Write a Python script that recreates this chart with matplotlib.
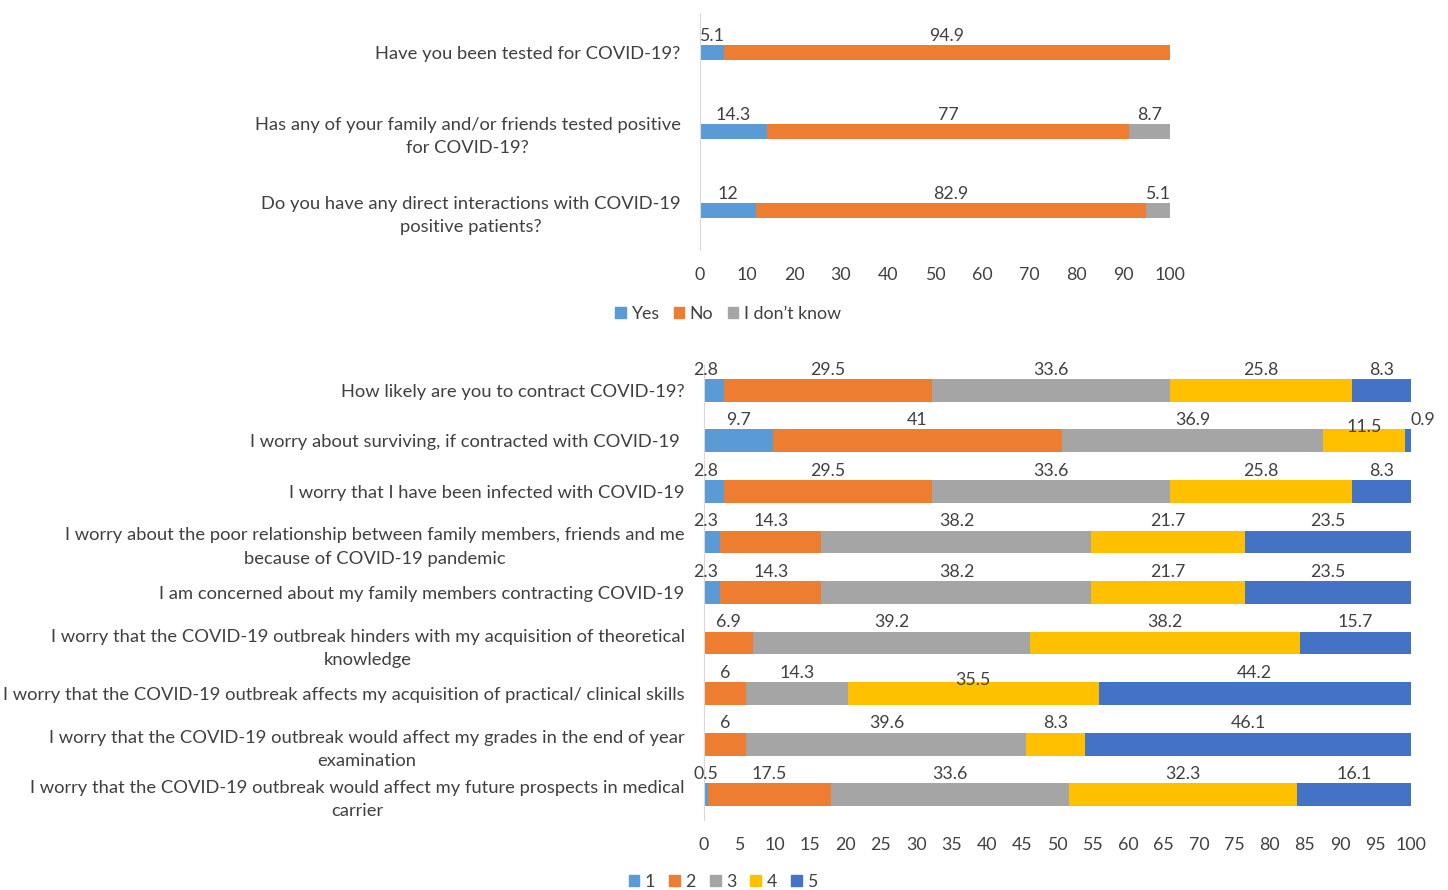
import matplotlib
matplotlib.use("Agg")
import matplotlib.pyplot as plt
from matplotlib.patches import Patch
import numpy as np

plt.rcParams['font.family'] = ['Lato', 'DejaVu Sans']

# ---- data: top panel ----
top_questions = [
    "Have you been tested for COVID-19?",
    "Has any of your family and/or friends tested positive\nfor COVID-19?",
    "Do you have any direct interactions with COVID-19\npositive patients?",
]
top_series = ["Yes", "No", "I don\u2019t know"]
top_yes = [5.1, 14.3, 12]
top_no = [94.9, 77, 82.9]
top_dk = [0, 8.7, 5.1]
top_ticks = [0, 10, 20, 30, 40, 50, 60, 70, 80, 90, 100]

# ---- data: bottom panel ----
bot_questions = [
    "How likely are you to contract COVID-19?",
    "I worry about surviving, if contracted with COVID-19 ",
    "I worry that I have been infected with COVID-19",
    "I worry about the poor relationship between family members, friends and me\nbecause of COVID-19 pandemic",
    "I am concerned about my family members contracting COVID-19",
    "I worry that the COVID-19 outbreak hinders with my acquisition of theoretical\nknowledge",
    "I worry that the COVID-19 outbreak affects my acquisition of practical/ clinical skills",
    "I worry that the COVID-19 outbreak would affect my grades in the end of year\nexamination",
    "I worry that the COVID-19 outbreak would affect my future prospects in medical\ncarrier",
]
bot_series = ["1", "2", "3", "4", "5"]
bot_1 = [2.8, 9.7, 2.8, 2.3, 2.3, 0, 0, 0, 0.5]
bot_2 = [29.5, 41, 29.5, 14.3, 14.3, 6.9, 6, 6, 17.5]
bot_3 = [33.6, 36.9, 33.6, 38.2, 38.2, 39.2, 14.3, 39.6, 33.6]
bot_4 = [25.8, 11.5, 25.8, 21.7, 21.7, 38.2, 35.5, 8.3, 32.3]
bot_5 = [8.3, 0.9, 8.3, 23.5, 23.5, 15.7, 44.2, 46.1, 16.1]
bot_ticks = list(range(0, 101, 5))

colors = ["#5B9BD5", "#ED7D31", "#A5A5A5", "#FFC000", "#4472C4"]
txt = "#404040"
FS = 12.8
YFS = 13.2

W, H = 1448, 890
fig = plt.figure(figsize=(W / 100, H / 100), dpi=100)


def px_axes(x0, x1, y0, y1):
    return fig.add_axes([x0 / W, 1 - y1 / H, (x1 - x0) / W, (y1 - y0) / H])


def draw(ax, questions, series_vals, names, ticks, height, label_nudge):
    y = np.arange(len(questions))
    left = np.zeros(len(questions))
    for si, vals in enumerate(series_vals):
        vals = np.array(vals, dtype=float)
        ax.barh(y, vals, left=left, height=height, color=colors[si],
                edgecolor='none', label=names[si])
        for i, v in enumerate(vals):
            if v > 0:
                dx, dy = label_nudge.get((i, si), (0, 0))
                ax.annotate(f"{v:g}", (left[i] + v / 2, y[i] - height / 2),
                            xytext=(dx, 1 + dy), textcoords='offset points',
                            ha='center', va='bottom', fontsize=FS, color=txt)
        left += vals
    ax.set_xlim(0, 100)
    ax.set_ylim(len(questions) - 0.5, -0.5)
    ax.set_yticks(y)
    ax.set_yticklabels(questions, fontsize=YFS, color=txt)
    for lab in ax.get_yticklabels():
        lab.set_multialignment('center')
        lab.set_linespacing(1.55)
    ax.set_xticks(ticks)
    ax.set_xticklabels([str(t) for t in ticks], fontsize=FS, color=txt)
    for s in ['top', 'right', 'bottom']:
        ax.spines[s].set_visible(False)
    ax.spines['left'].set_color('#D9D9D9')
    ax.tick_params(axis='both', length=0)
    ax.tick_params(axis='y', pad=14)
    ax.tick_params(axis='x', pad=12)


# top panel
ax1 = px_axes(700, 1170, 13, 250)
draw(ax1, top_questions, [top_yes, top_no, top_dk], top_series, top_ticks, 0.18, {})
h1 = [Patch(color=colors[i]) for i in range(3)]
fig.legend(h1, top_series, loc='center', bbox_to_anchor=(728 / W, 1 - 314 / H),
           ncol=3, frameon=False, fontsize=FS, handlelength=0.6, handleheight=0.6,
           handletextpad=0.3, columnspacing=0.8, labelcolor=txt)

# bottom panel
ax2 = px_axes(704, 1411, 365, 820)
nudges = {(1, 4): (11, 0), (0, 0): (-6, 0), (2, 0): (-6, 0), (3, 0): (-5, 0),
          (4, 0): (-5, 0), (6, 3): (0, -5), (1, 3): (0, -5)}
draw(ax2, bot_questions, [bot_1, bot_2, bot_3, bot_4, bot_5], bot_series,
     bot_ticks, 0.45, nudges)
h2 = [Patch(color=colors[i]) for i in range(5)]
fig.legend(h2, bot_series, loc='center', bbox_to_anchor=(723 / W, 1 - 882 / H),
           ncol=5, frameon=False, fontsize=FS, handlelength=0.6, handleheight=0.6,
           handletextpad=0.3, columnspacing=0.8, labelcolor=txt)

fig.savefig("out.png", dpi=100)
